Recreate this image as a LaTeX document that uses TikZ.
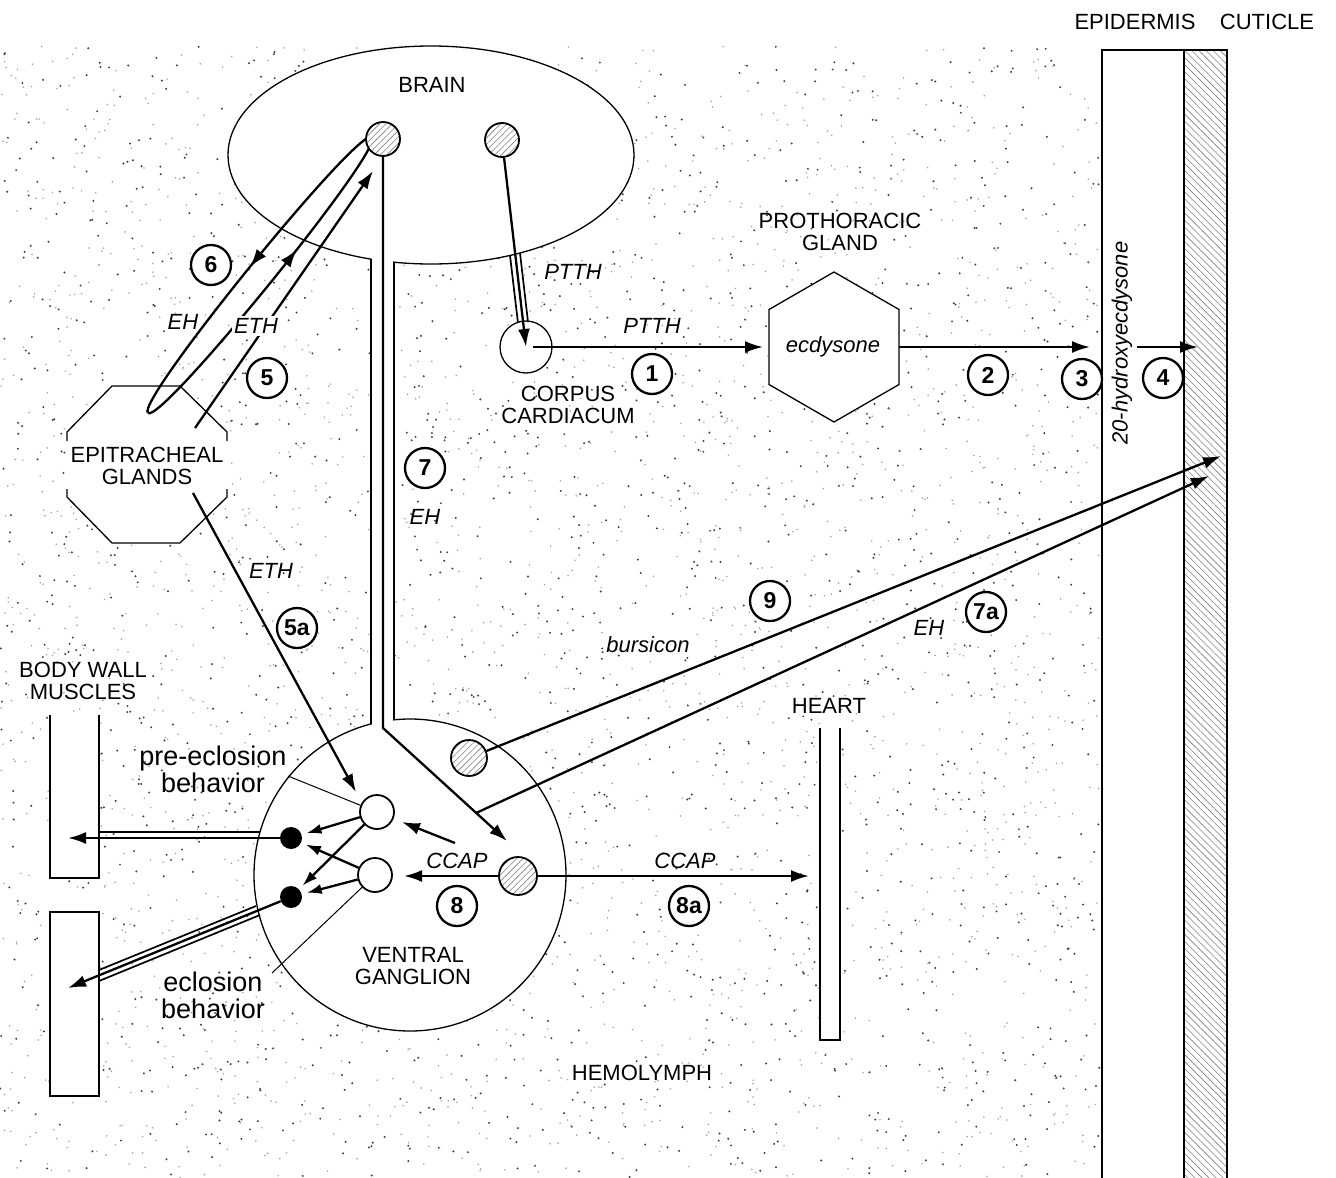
\documentclass[tikz,border=0pt]{standalone}
\usepackage{fontspec}
\setmainfont{Liberation Sans}
\usetikzlibrary{shapes.geometric,arrows.meta,patterns.meta,decorations.markings}
\newcommand{\mycapfont}{\fontsize{22}{22}\selectfont}
\newcommand{\mybehfont}{\fontsize{27}{27}\selectfont}
\newcommand{\mynumfont}{\fontsize{23}{23}\selectfont\bfseries}
\tikzset{
  conn/.style={line width=2.3pt},
  arr/.style={conn,-{Latex[length=18pt,width=12pt]}},
  sarr/.style={conn,-{Latex[length=15pt,width=10pt]}},
  organ/.style={draw,line width=1.3pt,fill=white},
  outl/.style={line width=1.3pt},
  nerve/.style={line width=1.7pt},
  neuron/.style={circle,draw,line width=1.8pt,inner sep=0pt,minimum size=34pt,preaction={fill=white},pattern={Lines[angle=45,distance=4.5pt,line width=0.6pt]},pattern color=black!50},
  openn/.style={circle,draw,line width=1.8pt,fill=white,inner sep=0pt,minimum size=34pt},
  blackn/.style={circle,fill=black,inner sep=0pt,minimum size=22pt},
  numc/.style={circle,draw,line width=2.3pt,fill=white,inner sep=0pt,minimum size=40pt,font=\mynumfont},
  lab/.style={font=\mycapfont,align=center,inner sep=1pt},
  ilab/.style={font=\mycapfont\itshape,inner sep=1pt},
  beh/.style={font=\mybehfont,align=center,inner sep=1pt},
  leader/.style={line width=1pt},
  loopmark/.style={postaction={decorate},decoration={markings,mark=at position #1 with {\arrow{Latex[length=18pt,width=12pt]}}}},
}
\begin{document}
\begin{tikzpicture}[x=1pt,y=-1pt]
\useasboundingbox (0,0) rectangle (1336,1178);
\fill[white] (0,0) rectangle (1336,1178);
% stipple (hemolymph)
\pgfmathsetseed{1234}
\foreach \i in {1,...,1900}{\fill[black!75] ({rnd*1100},{46+rnd*1132}) circle[radius=1.1pt];}
\foreach \i in {1,...,2600}{\fill[black!35] ({rnd*1100},{46+rnd*1132}) circle[radius=0.9pt];}
% epidermis and cuticle
\fill[white] (1102,50) rectangle (1184,1178);
\path[preaction={fill=white},pattern={Lines[angle=-45,distance=5pt,line width=0.6pt]},pattern color=black!50] (1184,50) rectangle (1227,1178);
\draw[outl] (1102,1178) -- (1102,50) -- (1227,50) -- (1227,1178);
\draw[outl] (1184,50) -- (1184,1178);
% brain and ventral ganglion
\node[ellipse,organ,minimum width=406pt,minimum height=218pt,inner sep=0pt] (brain) at (431,155) {};
\node[circle,organ,minimum size=312pt,inner sep=0pt] (vg) at (410,875) {};
% connective nerve
\fill[white] (371.8,250) rectangle (393.2,726);
\coordinate (cl1) at (371,259); \coordinate (cl2) at (371,724);
\coordinate (cr1) at (394,262); \coordinate (cr2) at (394,720);
\draw[nerve] (cl1) -- (cl2);
\draw[nerve] (cr1) -- (cr2);
% epitracheal glands
\fill[white] (67,432) -- (112,386) -- (180,386) -- (227,432) -- (227,497) -- (180,543) -- (112,543) -- (67,497) -- cycle;
\draw[outl] (67,441) -- (67,432) -- (112,386) -- (180,386) -- (227,432) -- (227,441);
\draw[outl] (67,489) -- (67,497) -- (112,543) -- (180,543) -- (227,497) -- (227,489);
% prothoracic gland
\draw[organ] (834,272) -- (899,309.5) -- (899,384.5) -- (834,422) -- (769,384.5) -- (769,309.5) -- cycle;
% corpus cardiacum
\node[circle,organ,minimum size=52pt,inner sep=0pt] (cc) at (526,347) {};
% body wall muscles and heart
\fill[white] (50,715) rectangle (99,878);
\draw[outl] (50,715) -- (50,878) -- (99,878) -- (99,715);
\draw[outl,fill=white] (50,912) rectangle (99,1096);
\fill[white] (820,728) rectangle (840,1040);
\draw[outl] (820,728) -- (820,1040) -- (840,1040) -- (840,728);
% EH / ETH loop between brain and epitracheal glands
\coordinate (ltop) at (372,137); \coordinate (ltip) at (148,413);
\draw[conn,loopmark=0.5] (ltop) .. controls (358.6,126.1) and (134.6,402.1) .. (ltip);
\draw[conn,loopmark=0.62] (ltip) .. controls (161.4,423.9) and (385.4,147.9) .. (ltop);
% neurons
\node[neuron] (n1) at (383,139) {};
\node[neuron] (n2) at (502,140) {};
\node[neuron,minimum size=36pt] (nb) at (469,758) {};
\node[neuron,minimum size=38pt] (nc) at (518,876) {};
\node[openn] (o1) at (377,812) {};
\node[openn] (o2) at (375,875) {};
\node[blackn] (b1) at (291,838) {};
\node[blackn] (b2) at (291,897) {};
% connector end points
\coordinate (ax1) at (383,728);
\coordinate (ax2) at (507,841);
\coordinate (b7a) at (476,813);
\coordinate (t7a) at (1209,476);
\coordinate (t9) at (1221,456);
\coordinate (s5) at (195,428);
\coordinate (t5) at (373,171);
\coordinate (s5a) at (193,493);
\coordinate (t5a) at (356,792);
\coordinate (p1a) at (510,255.5); \coordinate (p1b) at (518,323);
\coordinate (p2a) at (520,253); \coordinate (p2b) at (528,322);
\coordinate (c1s) at (533,347);
\coordinate (pgw) at (763,347);
\coordinate (pge) at (899,347);
\coordinate (t2) at (1090,347);
\coordinate (s4) at (1137,347);
\coordinate (t4) at (1198,347);
\coordinate (th) at (809,876);
\coordinate (to2) at (404,876);
\coordinate (s8b) at (455,843);
\coordinate (to1) at (402,822);
\coordinate (tm1) at (68,838);
\coordinate (m1a) at (260,832); \coordinate (m1b) at (99,832);
\coordinate (tm2) at (68,988);
\coordinate (m2a) at (256,906); \coordinate (m2b) at (99,970);
\coordinate (m3a) at (260,915); \coordinate (m3b) at (99,981);
\coordinate (l1a) at (288,776);
\coordinate (l2a) at (272,973);
% connectors
\draw[arr] (n1) -- (ax1) -- (ax2);
\draw[arr] (b7a) -- (t7a);
\draw[arr] (nb) -- (t9);
\draw[arr] (s5) -- (t5);
\draw[arr] (s5a) -- (t5a);
\draw[arr] (n2) -- (cc.center);
\draw[nerve] (p1a) -- (p1b);
\draw[nerve] (p2a) -- (p2b);
\draw[arr] (c1s) -- (pgw);
\draw[arr] (pge) -- (t2);
\draw[arr] (s4) -- (t4);
\draw[arr] (nc) -- (th);
\draw[arr] (nc) -- (to2);
\draw[arr] (s8b) -- (to1);
\draw[sarr,shorten >=5pt] (o1) -- (b1);
\draw[sarr,shorten >=5pt] (o1) -- (b2);
\draw[sarr,shorten >=5pt] (o2) -- (b1);
\draw[sarr,shorten >=5pt] (o2) -- (b2);
\draw[arr] (b1) -- (tm1);
\draw[nerve] (m1a) -- (m1b);
\draw[arr] (b2) -- (tm2);
\draw[nerve] (m2a) -- (m2b);
\draw[nerve] (m3a) -- (m3b);
\draw[leader] (l1a) -- (o1);
\draw[leader] (l2a) -- (o2);
% labels
\node[lab] (brainlab) at (432,85) {BRAIN};
\node[lab] (epilab) at (1135,22) {EPIDERMIS};
\node[lab] (cutlab) at (1267,22) {CUTICLE};
\node[ilab,rotate=90] (hydro) at (1122,343) {20-hydroxyecdysone};
\node[ilab] (ptth1) at (573,272) {PTTH};
\node[ilab] (ptth2) at (652,326) {PTTH};
\node[lab] (cclab) at (568,405) {CORPUS\\CARDIACUM};
\node[lab] (pglab) at (840,232) {PROTHORACIC\\GLAND};
\node[ilab] (pg) at (833,347) {ecdysone};
\node[lab] (eg) at (147,466) {EPITRACHEAL\\GLANDS};
\node[ilab] (eh1) at (183,322) {EH};
\node[ilab,fill=white,inner sep=2pt] (eth1) at (256,326) {ETH};
\node[ilab] (eth2) at (271,571) {ETH};
\node[ilab] (eh2) at (425,517) {EH};
\node[ilab] (burs) at (648,645) {bursicon};
\node[ilab] (eh3) at (929,628) {EH};
\node[lab] (heartlab) at (829,706) {HEART};
\node[lab] (bwm) at (83,681) {BODY WALL\\MUSCLES};
\node[beh] (pre) at (213,769) {pre-eclosion\\behavior};
\node[beh] (ecl) at (213,995) {eclosion\\behavior};
\node[ilab] (ccap1) at (457,861) {CCAP};
\node[ilab] (ccap2) at (685,861) {CCAP};
\node[lab] (vglab) at (413,966) {VENTRAL\\GANGLION};
\node[lab] (hemo) at (642,1073) {HEMOLYMPH};
% step numbers
\node[numc] (c1) at (652,374) {1};
\node[numc] (c2) at (988,375) {2};
\node[numc] (c3) at (1082,379) {3};
\node[numc] (c4) at (1163,378) {4};
\node[numc] (c5) at (267,378) {5};
\node[numc] (c5a) at (297,628) {5a};
\node[numc] (c6) at (211,265) {6};
\node[numc] (c7) at (425,468) {7};
\node[numc] (c7a) at (986,612) {7a};
\node[numc] (c8) at (457,906) {8};
\node[numc] (c8a) at (689,906) {8a};
\node[numc] (c9) at (770,601) {9};
\end{tikzpicture}
\end{document}
